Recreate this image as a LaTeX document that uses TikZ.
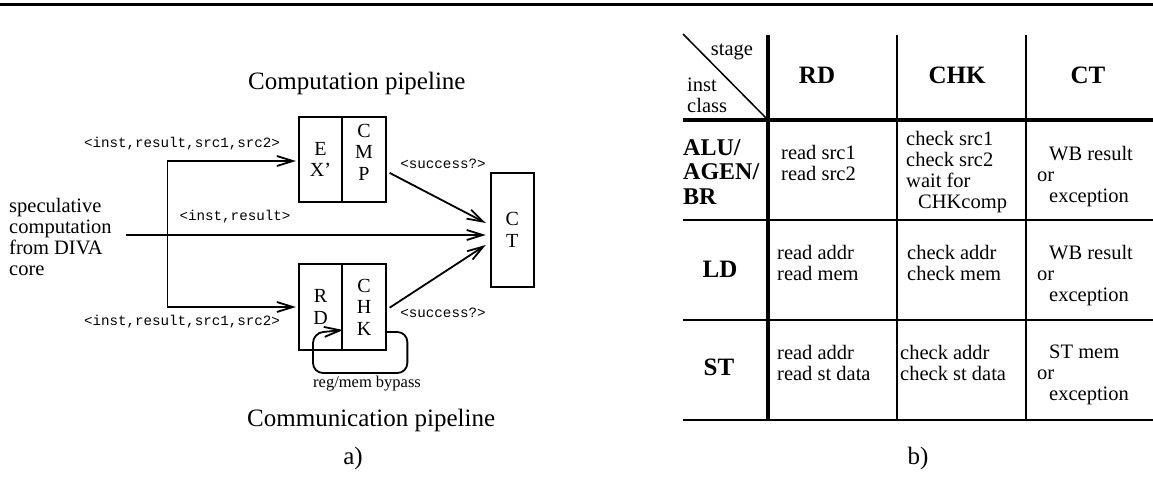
\documentclass[tikz,border=0pt]{standalone}
\usepackage{fontspec}
\setmainfont{Liberation Serif}
\newfontfamily\cour{Liberation Mono}
\usetikzlibrary{arrows.meta,calc}
\tikzset{
  conn/.style={line width=1.8pt,-{Straight Barb[length=16pt,width=10pt,line width=1.8pt]}},
  stagebox/.style={draw,line width=1.8pt,inner sep=0pt,align=center,
    font=\fontsize{20}{21.5}\selectfont},
  mono/.style={inner sep=0pt,font=\cour\fontsize{14.2}{16}\selectfont},
  body/.style={inner sep=0pt,font=\fontsize{20.5}{21}\selectfont},
  cell/.style={body,anchor=north west,align=left},
  big/.style={inner sep=0pt,font=\fontsize{25}{21}\selectfont},
  bighead/.style={inner sep=0pt,font=\fontsize{25}{21}\selectfont\bfseries},
  rowhead/.style={inner sep=0pt,font=\fontsize{24}{24.5}\selectfont\bfseries},
  thin/.style={line width=1.8pt},
  thick/.style={line width=3.4pt}
}
\begin{document}
\begin{tikzpicture}[x=1pt,y=1pt]
\useasboundingbox (0,0) rectangle (1153,-489);
% top rule
\draw[line width=3pt] (0,-5) -- (1153,-5);

% ---------- a) ----------
\node[big,anchor=west] (t1) at (248,-83) {Computation pipeline};
\node[big,anchor=west] (t2) at (247,-420) {Communication pipeline};
\node[big] (la) at (353,-458) {a)};

\node[stagebox,minimum width=43.5pt,minimum height=85pt] (ex) at (320.5,-159.5) {E\\X’};
\node[stagebox,minimum width=43.5pt,minimum height=85pt] (cmp) at (364,-159.5) {};
\node[stagebox,draw=none] (cmptxt) at ([yshift=7.5pt]cmp.center) {C\\M\\P};
\node[stagebox,minimum width=43.5pt,minimum height=86pt] (rd) at (320.5,-307) {R\\D};
\node[stagebox,minimum width=43.5pt,minimum height=86pt] (chk) at (364,-307) {C\\H\\K};
\node[stagebox,minimum width=43.3pt,minimum height=114pt] (ct) at (512.3,-229.7) {C\\T};

\node[body,anchor=west,align=left] (spec) at (9,-236.5) {speculative\\computation\\from DIVA\\core};

\coordinate (src) at (126,-235);
\coordinate (split) at (167.5,-235);
\draw[conn,shorten >=4pt] (src) -- (src -| ct.west);
\draw[conn,shorten >=2pt] (split) |- ([yshift=-1.5pt]ex.west);
\draw[conn,shorten >=2pt] (split) |- (rd.west);
\draw[conn] ($(cmp.south east)+(3,30)$) -- ($(ct.west)+(-4,6.7)$);
\draw[conn] ($(chk.east)+(3,-0.7)$) -- ($(ct.west)+(-4,-15.3)$);
\draw[conn,rounded corners=10pt] ([yshift=-25pt]chk.east) -- ++(20.7,0) |- (313,-373) -- (313,-333) -- ([yshift=-23pt]rd.east);

\node[mono] (l1) at (182,-144) {<inst,result,src1,src2>};
\node[mono] (l2) at (182,-321.7) {<inst,result,src1,src2>};
\node[mono] (l3) at (235,-217) {<inst,result>};
\node[mono] (l4) at (443,-164) {<success?>};
\node[mono] (l5) at (443,-312.7) {<success?>};
\node[inner sep=0pt,anchor=west,font=\fontsize{16.5}{18}\selectfont] (byp) at (313,-384) {reg/mem bypass};

% ---------- b) ----------
\coordinate (tl) at (683,-34);
\coordinate (c1) at (768,-120);
\draw[line width=1.5pt] (tl) -- (c1);
\draw[thick] (768,-35) -- (768,-420);
\draw[thin] (897,-35) -- (897,-420);
\draw[thin] (1026,-35) -- (1026,-420);
\draw[thick] (683,-120) -- (1153,-120);
\draw[thin] (683,-220) -- (1153,-220);
\draw[thin] (683,-320) -- (1153,-320);
\draw[thin] (683,-420) -- (1153,-420);

\node[body] (stage) at (732,-52) {stage};
\node[cell] (instc) at (687,-78) {inst\\class};
\node[bighead] (hrd) at (817,-75) {RD};
\node[bighead] (hchk) at (957,-75) {CHK};
\node[bighead] (hct) at (1088,-75) {CT};

\node[rowhead,anchor=north west,align=left] (ralu) at (683,-139) {ALU/\\AGEN/\\BR};
\node[bighead] (rld) at (720,-269) {LD};
\node[bighead] (rst) at (719,-367) {ST};

\node[cell] (a1) at (781,-145) {read src1\\read src2};
\node[cell] (a2) at (906,-131) {check src1\\check src2\\wait for\\\hspace*{12pt}CHKcomp};
\node[cell] (a3) at (1037,-146) {\hspace*{12pt}WB result\\or\\\hspace*{12pt}exception};

\node[cell] (b1) at (777,-245) {read addr\\read mem};
\node[cell] (b2) at (907,-245) {check addr\\check mem};
\node[cell] (b3) at (1037,-245) {\hspace*{12pt}WB result\\or\\\hspace*{12pt}exception};

\node[cell] (c1t) at (777,-345) {read addr\\read st data};
\node[cell] (c2t) at (900,-345) {check addr\\check st data};
\node[cell] (c3t) at (1037,-345) {\hspace*{12pt}ST mem\\or\\\hspace*{12pt}exception};

\node[big] (lb) at (918,-458) {b)};
\end{tikzpicture}
\end{document}
